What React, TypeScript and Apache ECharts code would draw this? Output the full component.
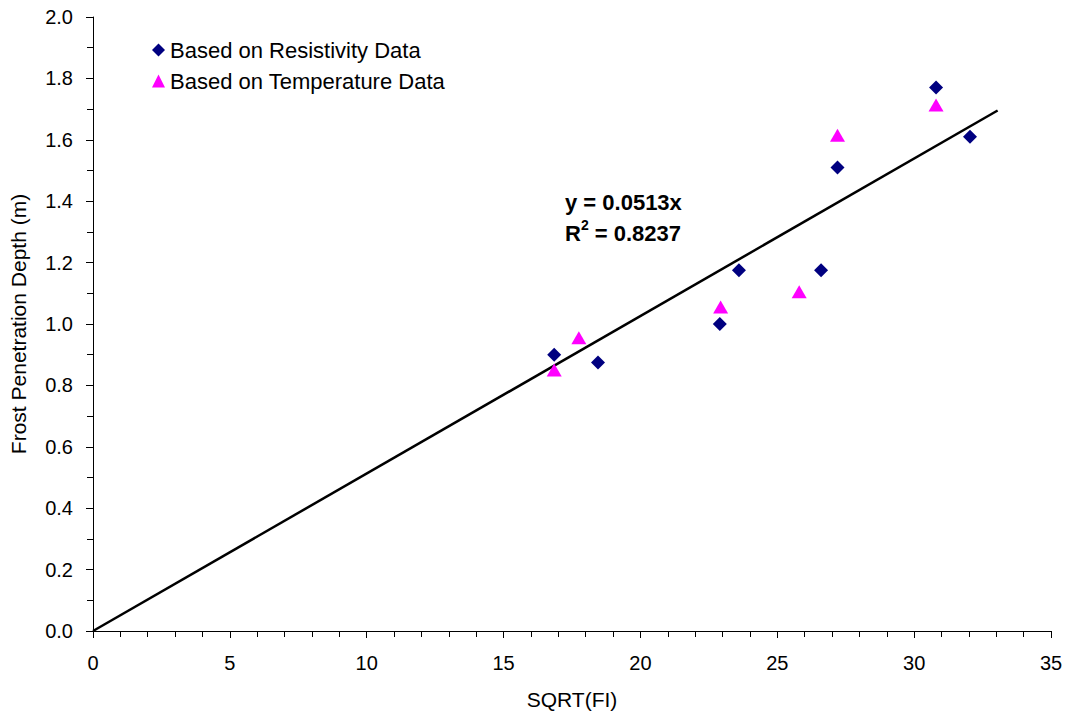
import React, { useEffect, useRef } from "react";
import * as echarts from "echarts";

const resistivityX = [16.85, 18.45, 22.9, 23.6, 26.6, 27.2, 30.8, 32.04];
const resistivityY = [0.9, 0.875, 1.0, 1.175, 1.175, 1.51, 1.77, 1.61];
const temperatureX = [16.85, 17.75, 22.93, 25.8, 27.2, 30.8];
const temperatureY = [0.85, 0.955, 1.055, 1.105, 1.615, 1.713];
const trendX = [0, 33.05];
const trendY = [0, 1.6955];
const seriesNames = ["Based on Resistivity Data", "Based on Temperature Data"];
const equationText = "y = 0.0513x";
const r2Value = "0.8237";

const FONT = "'Liberation Sans', Arial, sans-serif";

export default function App() {
  const ref = useRef<HTMLDivElement>(null);
  useEffect(() => {
    document.body.style.margin = "0";
    const chart = echarts.init(ref.current!, null, { renderer: "svg" });
    const zip = (xs: number[], ys: number[]) => xs.map((x, i) => [x, ys[i]]);
    chart.setOption({
      animation: false,
      backgroundColor: "#ffffff",
      textStyle: { fontFamily: FONT },
      grid: { left: 93, right: 19, top: 17, bottom: 88 },
      legend: {
        orient: "vertical",
        left: 147,
        top: 34,
        itemGap: 9,
        itemWidth: 13,
        itemHeight: 13,
        data: [
          { name: seriesNames[0], icon: "diamond" },
          { name: seriesNames[1], icon: "triangle" },
        ],
        textStyle: { fontFamily: FONT, fontSize: 22, color: "#000", lineHeight: 22 },
      },
      xAxis: {
        type: "value",
        min: 0,
        max: 35,
        interval: 5,
        name: "SQRT(FI)",
        nameLocation: "middle",
        nameGap: 58,
        nameTextStyle: { fontFamily: FONT, fontSize: 21, color: "#000" },
        axisLine: { show: true, onZero: false, lineStyle: { color: "#000", width: 1 } },
        axisTick: { show: true, length: 7, lineStyle: { color: "#000" } },
        minorTick: { show: true, splitNumber: 5, length: 6, lineStyle: { color: "#000" } },
        axisLabel: { fontFamily: FONT, fontSize: 20, color: "#000", margin: 22 },
        splitLine: { show: false },
      },
      yAxis: {
        type: "value",
        min: 0,
        max: 2,
        interval: 0.2,
        name: "Frost Penetration Depth (m)",
        nameLocation: "middle",
        nameGap: 64,
        nameRotate: 90,
        nameTextStyle: { fontFamily: FONT, fontSize: 21, color: "#000" },
        axisLine: { show: true, onZero: false, lineStyle: { color: "#000", width: 1 } },
        axisTick: { show: true, length: 7, lineStyle: { color: "#000" } },
        minorTick: { show: true, splitNumber: 2, length: 6, lineStyle: { color: "#000" } },
        axisLabel: {
          fontFamily: FONT,
          fontSize: 20,
          color: "#000",
          margin: 20,
          formatter: (v: number) => v.toFixed(1),
        },
        splitLine: { show: false },
      },
      series: [
        {
          name: "Trend",
          type: "line",
          data: zip(trendX, trendY),
          showSymbol: false,
          symbol: "none",
          lineStyle: { color: "#000", width: 2.5 },
          z: 1,
        },
        {
          name: seriesNames[0],
          type: "scatter",
          data: zip(resistivityX, resistivityY),
          symbol: "diamond",
          symbolSize: 14,
          itemStyle: { color: "#000080", opacity: 1 },
          z: 3,
        },
        {
          name: seriesNames[1],
          type: "scatter",
          data: zip(temperatureX, temperatureY),
          symbol: "triangle",
          symbolSize: [15, 13],
          itemStyle: { color: "#ff00ff", opacity: 1 },
          z: 2,
        },
      ],
      graphic: [
        {
          type: "text",
          left: 565,
          top: 191,
          style: {
            text: equationText,
            font: `bold 22px ${FONT}`,
            fill: "#000",
          },
        },
        {
          type: "text",
          left: 565,
          top: 218,
          style: {
            text: `{b|R}{s|2}{b| = ${r2Value}}`,
            rich: {
              b: { font: `bold 22px ${FONT}`, fill: "#000", verticalAlign: "bottom", lineHeight: 26 },
              s: { font: `bold 14px ${FONT}`, fill: "#000", verticalAlign: "top", lineHeight: 26, padding: [0, 0, 12, 0] },
            },
          },
        },
      ],
    });
    return () => chart.dispose();
  }, []);
  return <div ref={ref} style={{ width: 1070, height: 719 }} />;
}
